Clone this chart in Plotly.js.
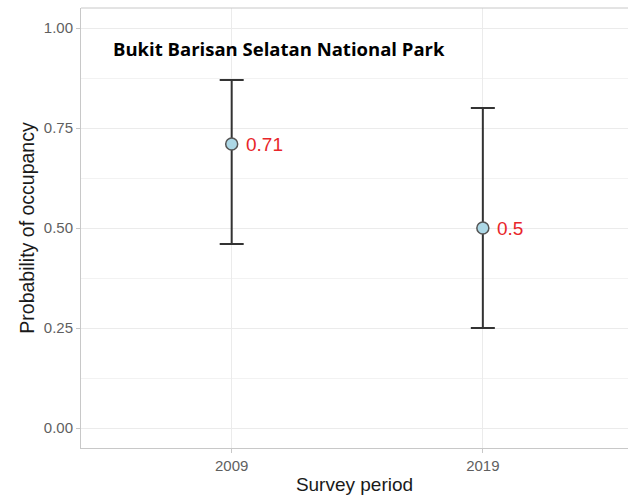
<!DOCTYPE html>
<html>
<head>
<meta charset="utf-8">
<script src="https://cdn.plot.ly/plotly-3.0.1.min.js"></script>
<style>html,body{margin:0;padding:0;background:#fff;}#chart{width:628px;height:501px;}</style>
</head>
<body>
<div id="chart"></div>
<script>
var periods = ["2009", "2019"];
var occupancy = [0.71, 0.50];
var upperCI = [0.87, 0.80];
var lowerCI = [0.46, 0.25];
var valueLabels = ["0.71", "0.5"];
var yTicks = [0, 0.25, 0.5, 0.75, 1.0];
var yTickLabels = ["0.00", "0.25", "0.50", "0.75", "1.00"];
var panelTitle = "Bukit Barisan Selatan National Park";

var errPlus = occupancy.map(function (v, i) { return upperCI[i] - v; });
var errMinus = occupancy.map(function (v, i) { return v - lowerCI[i]; });

var trace = {
  type: 'scatter',
  mode: 'markers',
  x: periods,
  y: occupancy,
  marker: {size: 12, color: '#add8e6', line: {color: '#555555', width: 1.5}},
  error_y: {
    type: 'data', symmetric: false,
    array: errPlus, arrayminus: errMinus,
    color: '#333333', thickness: 2, width: 12
  },
  cliponaxis: false,
  hoverinfo: 'none'
};

var labelAnnotations = periods.map(function (p, i) {
  return {
    text: valueLabels[i], x: i, y: occupancy[i], xref: 'x', yref: 'y',
    xanchor: 'left', yanchor: 'middle', xshift: 12, yshift: 0,
    showarrow: false,
    font: {family: 'Liberation Sans, Arial, sans-serif', size: 19, color: '#e8262a'}
  };
});

var layout = {
  width: 628, height: 501,
  margin: {l: 81, r: 0, t: 8, b: 53},
  paper_bgcolor: '#ffffff', plot_bgcolor: '#ffffff',
  showlegend: false,
  font: {family: 'Liberation Sans, Arial, sans-serif'},
  xaxis: {
    type: 'category',
    categoryorder: 'array', categoryarray: periods,
    range: [-0.6, 1.578],
    showgrid: true, gridcolor: '#ebebeb', gridwidth: 1,
    zeroline: false,
    showline: true, linecolor: '#c8c8c8', linewidth: 1,
    ticks: 'outside', ticklen: 4, tickcolor: '#c8c8c8',
    tickfont: {size: 15, color: '#5f5f5f'},
    title: {text: 'Survey period', font: {size: 19, color: '#1a1a1a'}, standoff: 4}
  },
  yaxis: {
    range: [-0.05, 1.05],
    tickvals: yTicks, ticktext: yTickLabels,
    showgrid: true, gridcolor: '#ebebeb', gridwidth: 1,
    minor: {dtick: 0.125, tick0: 0, showgrid: true, gridcolor: '#f2f2f2', gridwidth: 1},
    zeroline: false,
    showline: true, linecolor: '#c8c8c8', linewidth: 1,
    ticks: 'outside', ticklen: 4, tickcolor: '#c8c8c8',
    tickfont: {size: 15, color: '#5f5f5f'},
    title: {text: 'Probability of occupancy', font: {size: 19.5, color: '#1a1a1a'}, standoff: 3}
  },
  shapes: [{
    type: 'line', xref: 'paper', yref: 'paper',
    x0: 0, x1: 1, y0: 1, y1: 1,
    line: {color: '#c8c8c8', width: 1}
  }],
  annotations: [{
    text: '<b>' + panelTitle + '</b>',
    xref: 'paper', yref: 'paper',
    x: 30 / 547, y: 0.909,
    xanchor: 'left', yanchor: 'middle',
    showarrow: false,
    font: {family: 'Open Sans, Liberation Sans, sans-serif', size: 18.5, color: '#000000'}
  }].concat(labelAnnotations)
};

Plotly.newPlot('chart', [trace], layout, {displayModeBar: false, staticPlot: true});
</script>
</body>
</html>
